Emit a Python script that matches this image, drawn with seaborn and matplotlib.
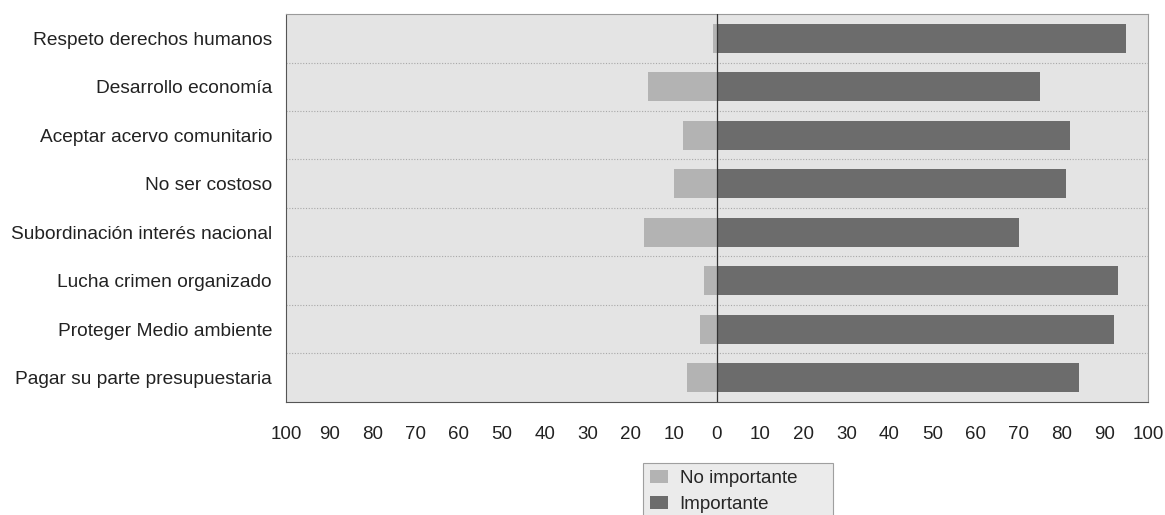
import matplotlib
matplotlib.use("Agg")
import matplotlib.pyplot as plt
import seaborn as sns
import numpy as np

categories = [
    "Respeto derechos humanos",
    "Desarrollo economía",
    "Aceptar acervo comunitario",
    "No ser costoso",
    "Subordinación interés nacional",
    "Lucha crimen organizado",
    "Proteger Medio ambiente",
    "Pagar su parte presupuestaria",
]
importante = [95, 75, 82, 81, 70, 93, 92, 84]
no_importante = [1, 16, 8, 10, 17, 3, 4, 7]
tick_values = list(range(-100, 101, 10))
tick_labels = [str(abs(v)) for v in tick_values]

sns.set_style("white")
plt.rcParams["font.family"] = ["Liberation Sans", "DejaVu Sans"]

fig = plt.figure(figsize=(11.65, 5.15), dpi=100)
ax = fig.add_axes([0.2455, 0.2195, 0.7399, 0.7533])
ax.set_facecolor("#e4e4e4")

sns.barplot(x=[-v for v in no_importante], y=categories, orient="h",
            color="#b3b3b3", saturation=1, width=0.6, ax=ax,
            label="No importante", zorder=3, linewidth=0)
sns.barplot(x=importante, y=categories, orient="h",
            color="#6c6c6c", saturation=1, width=0.6, ax=ax,
            label="Importante", zorder=3, linewidth=0)

ax.set_xlim(-100, 100)
ax.set_ylim(len(categories) - 0.5, -0.5)
ax.set_xticks(tick_values)
ax.set_xticklabels(tick_labels, fontsize=13.5, color="#222222")
ax.tick_params(axis="x", direction="out", length=8, width=0.8,
               color="#555555", pad=9)
ax.tick_params(axis="y", length=0, labelsize=13.8, labelcolor="#222222", pad=10)
ax.set_xlabel("")
ax.set_ylabel("")

# dotted separators between rows
for b in np.arange(0.5, len(categories) - 0.5, 1.0):
    ax.axhline(b, color="#a8a8a8", lw=0.8, ls=(0, (1, 1.5)), zorder=1)
ax.axvline(0, color="#333333", lw=0.9, zorder=4)

for side in ["top", "right"]:
    ax.spines[side].set_color("#9a9a9a")
    ax.spines[side].set_linewidth(0.8)
for side in ["left", "bottom"]:
    ax.spines[side].set_color("#555555")
    ax.spines[side].set_linewidth(0.8)

if ax.legend_:
    ax.legend_.remove()
handles, labels = ax.get_legend_handles_labels()
leg = fig.legend(handles, labels, loc="upper left",
                 bbox_to_anchor=(643 / 1165, 52 / 515, 190 / 1165, 0.0),
                 mode="expand", fontsize=13.5,
                 frameon=True, fancybox=False, facecolor="#e6e6e6",
                 edgecolor="#8a8a8a", handlelength=1.0, handleheight=0.7,
                 handletextpad=0.6, borderpad=0.35, labelspacing=0.5,
                 borderaxespad=0)
leg.get_frame().set_linewidth(0.8)

fig.savefig("out.png", dpi=100, facecolor="white")
